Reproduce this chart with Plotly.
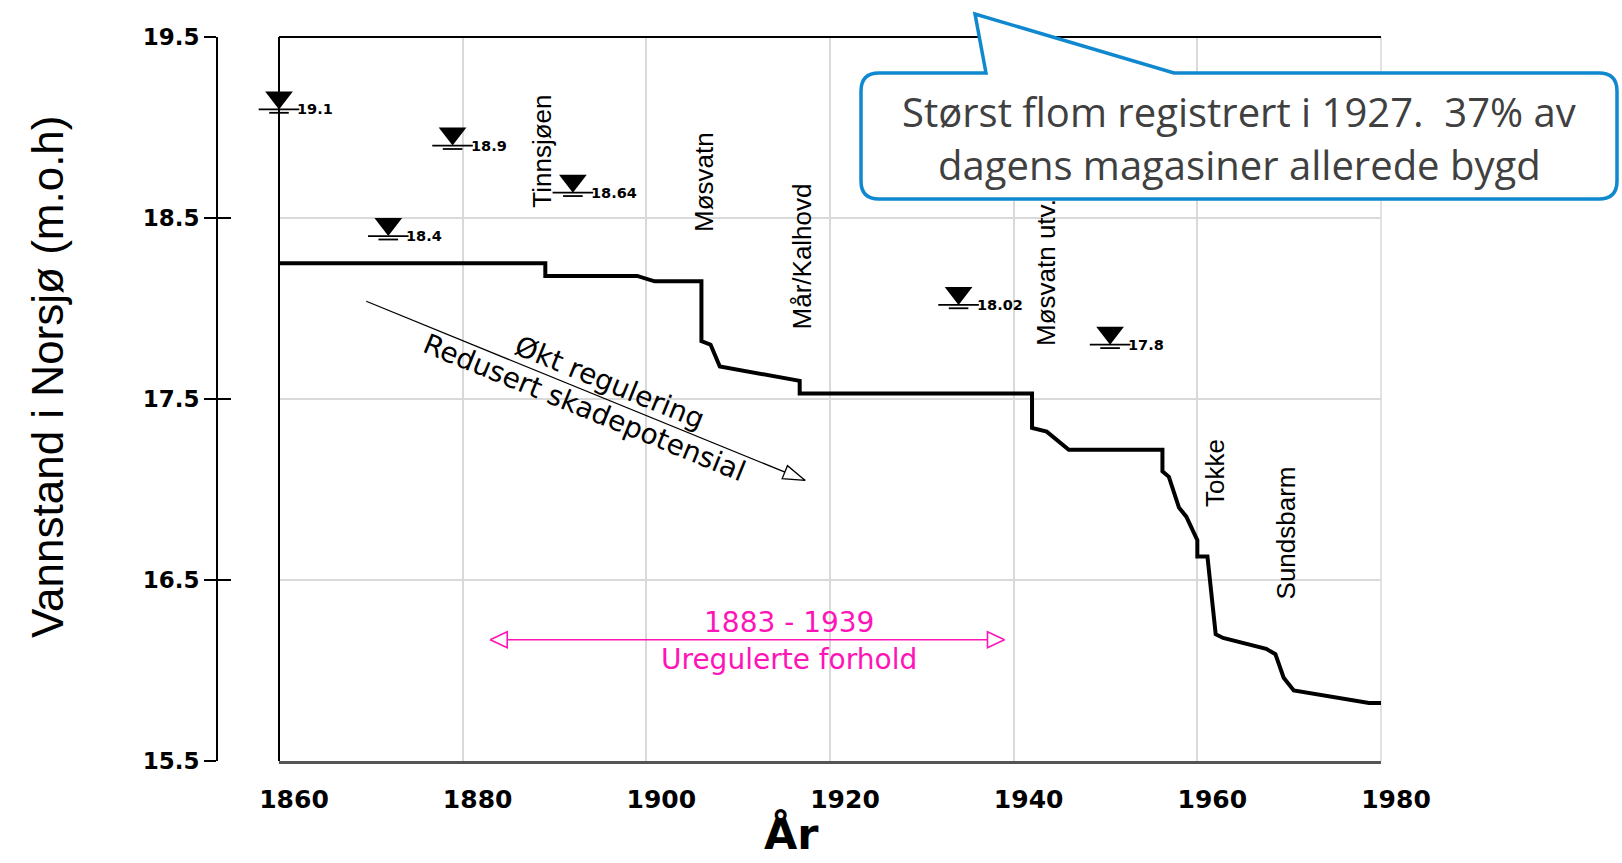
import math
import plotly.graph_objects as go

# ---------------- data ----------------
line_years = [1860, 1889.0, 1889.0, 1899.0, 1900.9, 1906.0, 1906.0, 1907.0, 1908.0, 1916.7, 1916.7,
              1942.0, 1942.0, 1943.6, 1946.0, 1956.2, 1956.2, 1956.9, 1958.0, 1958.8, 1960.0, 1960.0,
              1961.1, 1962.0, 1962.8, 1967.5, 1968.5, 1969.4, 1970.5, 1978.7, 1980]
line_levels = [18.25, 18.25, 18.18, 18.18, 18.15, 18.15, 17.82, 17.80, 17.68, 17.60, 17.53,
               17.53, 17.34, 17.32, 17.22, 17.22, 17.10, 17.07, 16.90, 16.85, 16.72, 16.63,
               16.63, 16.20, 16.18, 16.12, 16.09, 15.96, 15.89, 15.82, 15.82]

flood_years = [1860, 1871.9, 1878.9, 1892.0, 1927.0, 1934.0, 1950.5]
flood_levels = [19.1, 18.4, 18.9, 18.64, 19.56, 18.02, 17.8]
flood_labels = ["19.1", "18.4", "18.9", "18.64", "19.56", "18.02", "17.8"]

reservoir_names = ["Tinnsjøen", "Møsvatn", "Mår/Kalhovd", "Møsvatn utv.", "Tokke", "Sundsbarm"]
reservoir_years = [1888.6, 1906.3, 1917.0, 1943.6, 1962.0, 1969.6]
reservoir_label_levels = [18.87, 18.70, 18.29, 18.20, 17.09, 16.76]

x_ticks = [1860, 1880, 1900, 1920, 1940, 1960, 1980]
y_ticks = [15.5, 16.5, 17.5, 18.5, 19.5]
y_tick_text = ["15.5", "16.5", "17.5", "18.5", "19.5"]

unreg_period = [1883, 1939]
unreg_level = 16.17
unreg_texts = ["1883 - 1939", "Uregulerte forhold"]

trend_years = [1869.5, 1917.3]
trend_levels = [18.04, 17.05]
trend_texts = ["Økt regulering", "Redusert skadepotensial"]

callout_lines = ["Størst flom registrert i 1927.\u00a0 37% av", "dagens magasiner allerede bygd"]

X_RANGE = [1860, 1980]
Y_RANGE = [15.5, 19.5]

# ---------------- layout geometry ----------------
W, H = 1622, 863
ML, MR, MT, MB = 150, 241, 37, 102
PAPER_W = W - ML - MR
PAPER_H = H - MT - MB
PLOT_LEFT_PX = 279
X_DOM0 = (PLOT_LEFT_PX - ML) / PAPER_W
Y_AXIS_PX = 217
Y_POS = (Y_AXIS_PX - ML) / PAPER_W
PLOT_W = PAPER_W * (1 - X_DOM0)
XUPP = (X_RANGE[1] - X_RANGE[0]) / PLOT_W   # data units per pixel
YUPP = (Y_RANGE[1] - Y_RANGE[0]) / PAPER_H


def pp(px, py):
    """pixel position -> paper coordinates"""
    return (px - ML) / PAPER_W, (MT + PAPER_H - py) / PAPER_H


def arrow_head(tip_x, tip_y, from_x, from_y, length_px, half_px):
    dxp = (tip_x - from_x) / XUPP
    dyp = -(tip_y - from_y) / YUPP
    n = math.hypot(dxp, dyp)
    ux, uy = dxp / n, dyp / n
    bx, by = -ux * length_px, -uy * length_px
    nx, ny = -uy, ux
    pts = [(0, 0), (bx + nx * half_px, by + ny * half_px), (bx - nx * half_px, by - ny * half_px), (0, 0)]
    return [tip_x + p[0] * XUPP for p in pts], [tip_y - p[1] * YUPP for p in pts]


fig = go.Figure()

# main stepped line
fig.add_trace(go.Scatter(x=line_years, y=line_levels, mode="lines",
                         line=dict(color="black", width=4), hoverinfo="skip"))

# flood markers
TRI_SIZE = 24
tri_r = TRI_SIZE / 2
fig.add_trace(go.Scatter(x=flood_years, y=[v + tri_r * YUPP for v in flood_levels], mode="markers",
                         marker=dict(symbol="triangle-down", size=TRI_SIZE, color="black",
                                     line=dict(width=0)),
                         cliponaxis=False, hoverinfo="skip"))
fig.add_trace(go.Scatter(x=flood_years, y=flood_levels, mode="markers",
                         marker=dict(symbol="line-ew", size=29, line=dict(color="black", width=1.8)),
                         cliponaxis=False, hoverinfo="skip"))
fig.add_trace(go.Scatter(x=flood_years, y=[v - 3.4 * YUPP for v in flood_levels], mode="markers",
                         marker=dict(symbol="line-ew", size=14, line=dict(color="black", width=1.8)),
                         cliponaxis=False, hoverinfo="skip"))

# trend arrow
fig.add_trace(go.Scatter(x=trend_years, y=trend_levels, mode="lines",
                         line=dict(color="black", width=1.3), hoverinfo="skip"))
hx, hy = arrow_head(trend_years[1], trend_levels[1], trend_years[0], trend_levels[0], 22, 7)
fig.add_trace(go.Scatter(x=hx, y=hy, mode="lines", fill="toself", fillcolor="white",
                         line=dict(color="black", width=1.3), hoverinfo="skip"))

# magenta double arrow
MAG = "#ff14b8"
fig.add_trace(go.Scatter(x=unreg_period, y=[unreg_level, unreg_level], mode="lines",
                         line=dict(color=MAG, width=1.6), hoverinfo="skip"))
for tip, frm in [(unreg_period[0], unreg_period[1]), (unreg_period[1], unreg_period[0])]:
    ax_, ay_ = arrow_head(tip, unreg_level, frm, unreg_level, 17, 8)
    fig.add_trace(go.Scatter(x=ax_, y=ay_, mode="lines", fill="toself", fillcolor="white",
                             line=dict(color=MAG, width=1.6), hoverinfo="skip"))

# dummy trace for the inside-tick overlay axis
fig.add_trace(go.Scatter(x=[X_RANGE[0]], y=[Y_RANGE[0]], yaxis="y2", mode="markers",
                         marker=dict(opacity=0), hoverinfo="skip"))

annotations = []
# flood labels
for yr, lv, lab in zip(flood_years, flood_levels, flood_labels):
    annotations.append(dict(x=yr, y=lv, xref="x", yref="y", text=lab, showarrow=False,
                            xanchor="left", yanchor="middle", xshift=16,
                            font=dict(family="DejaVu Sans", size=14.5, color="black", weight="bold")))
# reservoir labels
SANS = "Liberation Sans, Arial, Helvetica, sans-serif"
for nm, yr, lv in zip(reservoir_names, reservoir_years, reservoir_label_levels):
    annotations.append(dict(x=yr, y=lv, xref="x", yref="y", text=nm, showarrow=False,
                            textangle=-90, xanchor="center", yanchor="middle",
                            font=dict(family=SANS, size=26, color="black")))

# trend texts
dxp = (trend_years[1] - trend_years[0]) / XUPP
dyp = -(trend_levels[1] - trend_levels[0]) / YUPP
ang = math.degrees(math.atan2(dyp, dxp))
ux, uy = math.cos(math.radians(ang)), math.sin(math.radians(ang))
nx, ny = uy, -ux  # normal pointing above the line (screen coords)
for txt, t, d in [(trend_texts[0], 0.54, 17), (trend_texts[1], 0.51, -16)]:
    xx = trend_years[0] + t * (trend_years[1] - trend_years[0])
    yy = trend_levels[0] + t * (trend_levels[1] - trend_levels[0])
    annotations.append(dict(x=xx, y=yy, xref="x", yref="y", text=txt, showarrow=False,
                            textangle=ang, xanchor="center", yanchor="middle",
                            xshift=nx * d, yshift=-ny * d,
                            font=dict(family="DejaVu Sans", size=28, color="black")))

# magenta texts
mid_x = 1915.5
annotations.append(dict(x=mid_x, y=unreg_level, xref="x", yref="y", text=unreg_texts[0],
                        showarrow=False, yshift=17, font=dict(family="DejaVu Sans", size=28, color=MAG)))
annotations.append(dict(x=mid_x, y=unreg_level, xref="x", yref="y", text=unreg_texts[1],
                        showarrow=False, yshift=-20, font=dict(family="DejaVu Sans", size=28, color=MAG)))

# axis titles
tx, ty = pp(47, 377)
annotations.append(dict(x=tx, y=ty, xref="paper", yref="paper", text="Vannstand i Norsjø (m.o.h)",
                        showarrow=False, textangle=-90, xanchor="center", yanchor="middle",
                        font=dict(family=SANS, size=44, color="black")))
tx, ty = pp(791, 834)
annotations.append(dict(x=tx, y=ty, xref="paper", yref="paper", text="År", showarrow=False,
                        xanchor="center", yanchor="middle",
                        font=dict(family="DejaVu Sans", size=43, color="black", weight="bold")))

# callout
L, R, T, B, rr = 861, 1617, 73, 199, 18
tip = (975, 14)
bl, br = 986, 1174
pts = [("M", (L + rr, T)), ("L", (bl, T)), ("L", tip), ("L", (br, T)), ("L", (R - rr, T)),
       ("Q", (R, T), (R, T + rr)), ("L", (R, B - rr)), ("Q", (R, B), (R - rr, B)),
       ("L", (L + rr, B)), ("Q", (L, B), (L, B - rr)), ("L", (L, T + rr)), ("Q", (L, T), (L + rr, T))]
path = ""
for item in pts:
    cmd = item[0]
    coords = " ".join("%.5f,%.5f" % pp(*p) for p in item[1:])
    path += cmd + coords + " "
path += "Z"

shapes = [
    dict(type="line", xref="x domain", yref="y domain", x0=0, x1=1, y0=1, y1=1,
         line=dict(color="black", width=2)),
    dict(type="line", xref="x domain", yref="y domain", x0=0, x1=0, y0=0, y1=1,
         line=dict(color="black", width=2)),
    dict(type="line", xref="x domain", yref="y domain", x0=1, x1=1, y0=0, y1=1,
         line=dict(color="#d9d9d9", width=1.5), layer="below"),
    dict(type="path", xref="paper", yref="paper", path=path, fillcolor="white",
         line=dict(color="#1088d0", width=3.5)),
]
for i, line_txt in enumerate(callout_lines):
    cx, cy = pp((L + R) / 2, [112, 164][i])
    annotations.append(dict(x=cx, y=cy, xref="paper", yref="paper", text=line_txt, showarrow=False,
                            xanchor="center", yanchor="middle",
                            font=dict(family="Open Sans", size=40, color="#404040")))

fig.update_layout(
    width=W, height=H,
    margin=dict(l=ML, r=MR, t=MT, b=MB, pad=0),
    paper_bgcolor="white", plot_bgcolor="white",
    showlegend=False,
    xaxis=dict(domain=[X_DOM0, 1], range=X_RANGE, tickvals=x_ticks, showgrid=True,
               gridcolor="#d9d9d9", gridwidth=1.5, zeroline=False, showline=True,
               linecolor="#555555", linewidth=3, ticks="", ticklabelstandoff=14,
               ticklabelshift=15,
               tickfont=dict(family="DejaVu Sans", size=25, color="black", weight="bold")),
    yaxis=dict(range=Y_RANGE, tickvals=y_ticks, ticktext=y_tick_text, anchor="free", position=Y_POS,
               showgrid=True, gridcolor="#d9d9d9", gridwidth=1.5, zeroline=False,
               showline=True, linecolor="black", linewidth=2, ticks="outside", ticklen=12,
               tickwidth=2, tickcolor="black",
               tickfont=dict(family="DejaVu Sans", size=23, color="black", weight="bold")),
    yaxis2=dict(range=Y_RANGE, tickvals=y_ticks, overlaying="y", anchor="free", position=Y_POS,
                showgrid=False, zeroline=False, showline=False, ticks="inside", ticklen=13,
                tickwidth=2, tickcolor="black", showticklabels=False),
    shapes=shapes,
    annotations=annotations,
)

fig.write_html("out.html", config={"displayModeBar": False},
               post_script="document.body.style.margin='0';document.body.style.overflow='hidden';")
